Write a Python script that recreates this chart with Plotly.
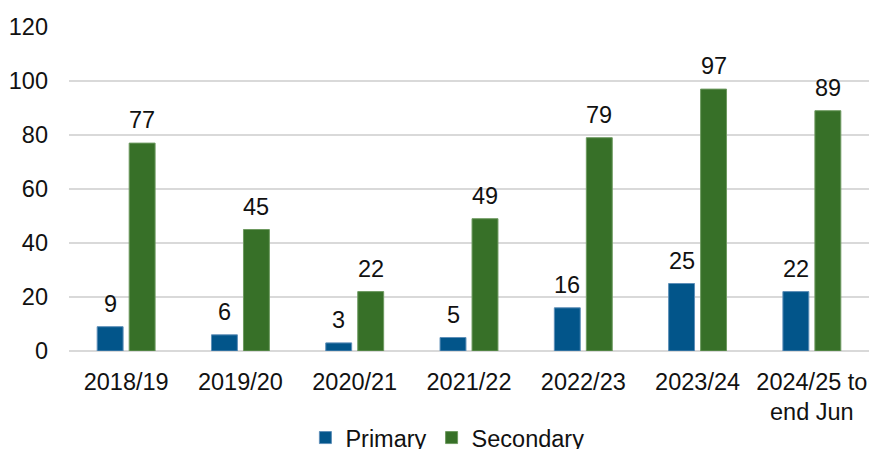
import plotly.graph_objects as go

# data
years = ["2018/19", "2019/20", "2020/21", "2021/22", "2022/23", "2023/24", "2024/25 to<br>end Jun"]
primary = [9, 6, 3, 5, 16, 25, 22]
secondary = [77, 45, 22, 49, 79, 97, 89]

BLUE = "#02558A"
GREEN = "#377028"
FONT = dict(family="Liberation Sans, Arial, sans-serif", size=23.5, color="#111111")

fig = go.Figure()
fig.add_trace(go.Bar(x=years, y=primary, name="Primary",
                     marker=dict(color=BLUE, line=dict(color="#5E8FB8", width=1))))
fig.add_trace(go.Bar(x=years, y=secondary, name="Secondary",
                     marker=dict(color=GREEN, line=dict(color="#6E9A60", width=1))))

# value labels above the bars
for vals, shift in [(primary, -16), (secondary, 16)]:
    for x, v in zip(years, vals):
        fig.add_annotation(x=x, y=v, text=str(v), showarrow=False,
                           xshift=shift, yshift=8, yanchor="bottom", font=FONT)

fig.update_layout(
    width=869, height=449,
    margin=dict(l=69, r=0, t=27, b=98, autoexpand=False),
    paper_bgcolor="white", plot_bgcolor="white",
    font=FONT,
    barmode="group", bargap=0.44, bargroupgap=0.19,
    showlegend=True,
    legend=dict(orientation="h", x=0.473, xanchor="center", y=-0.2, yanchor="top",
                font=FONT, itemwidth=30, traceorder="normal"),
)
fig.update_yaxes(range=[0, 120], dtick=20, showgrid=True, gridcolor="#D9D9D9", gridwidth=1.5,
                 zeroline=True, zerolinecolor="#D9D9D9", zerolinewidth=1.5,
                 showline=False, ticks="", ticklabelstandoff=20, automargin=False)
fig.update_xaxes(showgrid=False, showline=False, ticks="", ticklabelstandoff=14, automargin=False)

# drop the default page margin so the figure sits at the window's top-left corner
fig.write_html("out.html", config={"displayModeBar": False},
               post_script="document.body.style.margin='0';document.body.style.overflow='hidden';")
